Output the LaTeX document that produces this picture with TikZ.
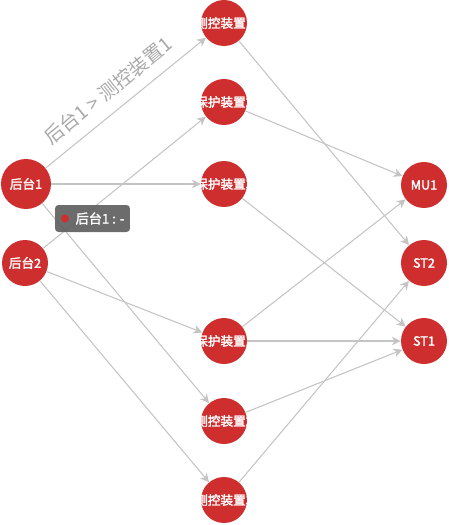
\documentclass[tikz,border=0pt]{standalone}
\usepackage{fontspec}
\setmainfont[AutoFakeBold=2]{Noto Sans CJK SC}
\usepackage{tikz}
\usetikzlibrary{positioning,arrows.meta}

\definecolor{nodered}{RGB}{206,46,46}
\definecolor{linkgray}{RGB}{196,196,196}
\definecolor{labelgray}{RGB}{168,168,168}
\definecolor{tipgray}{RGB}{96,96,96}

\tikzset{
  dev/.style={circle, fill=nodered, minimum size=0.92cm, inner sep=0pt,
    text=white, font=\fontsize{7.2}{8}\selectfont\bfseries,
    execute at begin node={\hbox to 0pt\bgroup\hss},
    execute at end node={\hss\egroup}},
  link/.style={draw=linkgray, line width=0.6pt,
    -{Stealth[length=5pt,width=5pt,inset=1.5pt]}},
  tipbox/.style={rectangle, rounded corners=2pt, fill=tipgray, fill opacity=0.92,
    text opacity=1, text=white, minimum width=1.5cm, minimum height=0.54cm,
    inner xsep=0pt, inner ysep=0pt, font=\fontsize{7.5}{8}\selectfont\bfseries},
}

\begin{document}
\begin{tikzpicture}[x=0.02cm, y=-0.02cm]
    \useasboundingbox (0,0) rectangle (449,525);

    % Backends
    \node [dev, minimum size=1cm] (hou1) at (26,184) {后台1};
    \node [dev] (hou2) at (25,263) {后台2};

    % Devices
    \node [dev] (ck1) at (224,23) {测控装置1};
    \node [dev] (bh2) at (224,102) {保护装置2};
    \node [dev] (bh3) at (224,184) {保护装置3};
    \node [dev] (bh1) at (224,341) {保护装置1};
    \node [dev] (ck2) at (224,421) {测控装置2};
    \node [dev] (ck3) at (224,500) {测控装置3};

    % Merging units / switches
    \node [dev] (mu1) at (424,185) {MU1};
    \node [dev] (st2) at (424,263) {ST2};
    \node [dev] (st1) at (424,341) {ST1};

    % Links from backends
    \draw [link] (hou1) -- node [sloped, above=3pt, pos=0.47, text=labelgray,
        font=\fontsize{11}{12}\selectfont] (lbl) {后台1 > 测控装置1} (ck1);
    \draw [link] (hou1) -- (bh3);
    \draw [link] (hou1) -- (ck2);
    \draw [link] (hou2) -- (bh2);
    \draw [link] (hou2) -- (bh1);
    \draw [link] (hou2) -- (ck3);

    % Links to the right column
    \draw [link] (ck1) -- (st2);
    \draw [link] (bh2) -- (mu1);
    \draw [link] (bh3) -- (st1);
    \draw [link] (bh1) -- (mu1);
    \draw [link] (bh1) -- (st1);
    \draw [link] (ck2) -- (st1);
    \draw [link] (ck3) -- (st2);

    % Tooltip
    \node [tipbox] (tip) at (92.5,218.5) {\hspace*{0.3cm}后台1 : -};
    \node [circle, fill=nodered, inner sep=0pt, minimum size=0.16cm,
        right=0.12cm of tip.west] (dot) {};
\end{tikzpicture}
\end{document}
